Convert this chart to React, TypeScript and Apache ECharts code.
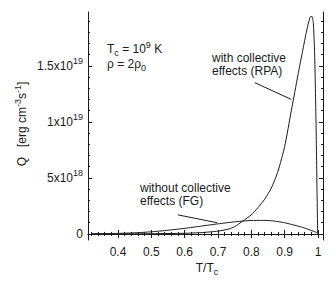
import React, { useEffect, useRef } from 'react';
import * as echarts from 'echarts';

// Temperature ratio T/Tc and emissivity Q (in units of 1e19 erg cm^-3 s^-1)
const tRPA = [0.32, 0.4, 0.5, 0.6, 0.65, 0.7, 0.73, 0.75, 0.775, 0.8, 0.82, 0.84, 0.86, 0.88, 0.9, 0.92, 0.94, 0.955, 0.965, 0.972, 0.978, 0.982, 0.986, 0.99, 0.994, 0.997, 0.999];
const qRPA = [0.0, 0.0, 0.002, 0.006, 0.012, 0.025, 0.042, 0.065, 0.116, 0.17, 0.235, 0.31, 0.41, 0.56, 0.78, 1.1, 1.42, 1.65, 1.8, 1.89, 1.94, 1.94, 1.88, 1.6, 1.0, 0.4, 0.0];

const tFG = [0.32, 0.4, 0.45, 0.5, 0.55, 0.6, 0.65, 0.7, 0.75, 0.78, 0.8, 0.83, 0.86, 0.88, 0.9, 0.92, 0.95, 0.97, 0.99, 0.999];
const qFG = [0.002, 0.005, 0.01, 0.019, 0.033, 0.05, 0.07, 0.09, 0.108, 0.116, 0.12, 0.121, 0.118, 0.11, 0.1, 0.085, 0.062, 0.042, 0.02, 0.01];

const xTicks = [0.4, 0.5, 0.6, 0.7, 0.8, 0.9, 1.0];
const xTickLabels = ['0.4', '0.5', '0.6', '0.7', '0.8', '0.9', '1'];
const yTicks = [0, 0.5, 1.0, 1.5];
const yTickLabels = ['{m|0}', '{m|5x10}{s|18}', '{m|1x10}{s|19}', '{m|1.5x10}{s|19}'];

const X_MIN = 0.31;
const X_MAX = 1.015;
const Y_MIN = -0.054;
const Y_MAX = 1.98;

const FONT = 'Liberation Sans, Arial, Helvetica, sans-serif';
const INK = '#1a1a1a';

function range(a: number, b: number, step: number, skip: number[]) {
  const out: number[] = [];
  for (let v = a; v <= b + 1e-9; v += step) {
    const r = Math.round(v * 1000) / 1000;
    if (!skip.some((s) => Math.abs(s - r) < 1e-6)) out.push(r);
  }
  return out;
}

const xMinor = range(0.32, 1.0, 0.02, xTicks);
const yMinor = range(0, 1.9, 0.1, yTicks);

export default function App() {
  const ref = useRef<HTMLDivElement>(null);
  useEffect(() => {
    if (!ref.current) return;
    const chart = echarts.init(ref.current, undefined, { renderer: 'svg' });
    const grid = { left: 88, top: 12, right: 13, bottom: 49 };
    const baseAxisLine = { show: true, lineStyle: { color: INK, width: 1 } };
    const mkX = (pos: 'bottom' | 'top', vals: number[], len: number, labels: boolean, line: boolean) => ({
      type: 'value',
      position: pos,
      min: X_MIN,
      max: X_MAX,
      axisLine: { ...baseAxisLine, show: line },
      axisTick: { show: true, inside: true, length: len, customValues: vals, lineStyle: { color: INK, width: 1 } },
      axisLabel: labels
        ? {
            show: true,
            customValues: xTicks,
            margin: 6,
            color: INK,
            fontFamily: FONT,
            fontSize: 12,
            formatter: (v: number) => {
              const i = xTicks.findIndex((t) => Math.abs(t - v) < 1e-6);
              return i >= 0 ? xTickLabels[i] : '';
            },
          }
        : { show: false },
      splitLine: { show: false },
    });
    const mkY = (pos: 'left' | 'right', vals: number[], len: number, labels: boolean, line: boolean) => ({
      type: 'value',
      position: pos,
      min: Y_MIN,
      max: Y_MAX,
      axisLine: { ...baseAxisLine, show: line },
      axisTick: { show: true, inside: true, length: len, customValues: vals, lineStyle: { color: INK, width: 1 } },
      axisLabel: labels
        ? {
            show: true,
            customValues: yTicks,
            margin: 5,
            color: INK,
            fontFamily: FONT,
            formatter: (v: number) => {
              const i = yTicks.findIndex((t) => Math.abs(t - v) < 1e-6);
              return i >= 0 ? yTickLabels[i] : '';
            },
            rich: {
              m: { fontSize: 12, fontFamily: FONT, color: INK, verticalAlign: 'middle' },
              s: { fontSize: 9, fontFamily: FONT, color: INK, verticalAlign: 'middle', padding: [0, 0, 10, 0] },
            },
          }
        : { show: false },
      splitLine: { show: false },
    });

    const richCommon = {
      m: { fontSize: 12, fontFamily: FONT, fill: INK, verticalAlign: 'middle' },
      sub: { fontSize: 9, fontFamily: FONT, fill: INK, verticalAlign: 'middle', padding: [8, 0, 0, 0] },
      sup: { fontSize: 9, fontFamily: FONT, fill: INK, verticalAlign: 'middle', padding: [0, 0, 8, 0] },
    };
    const txt = (x: number, y: number, text: string, extra: any = {}) => ({
      type: 'text',
      x,
      y,
      silent: true,
      style: {
        text,
        fill: INK,
        font: `12px ${FONT}`,
        verticalAlign: 'middle',
        rich: richCommon,
        ...extra,
      },
    });

    const arrowLine = (from: number[], to: number[]) => ({
      symbol: ['none', 'arrow'],
      symbolSize: [0, 7],
      silent: true,
      animation: false,
      label: { show: false },
      lineStyle: { color: INK, width: 1, type: 'solid' },
      emphasis: { disabled: true },
      data: [[{ coord: from }, { coord: to }]],
    });

    chart.setOption({
      animation: false,
      grid,
      xAxis: [
        mkX('bottom', xTicks, 4, true, true),
        mkX('bottom', xMinor, 2, false, false),
        mkX('top', xTicks, 4, false, true),
        mkX('top', xMinor, 2, false, false),
      ],
      yAxis: [
        mkY('left', yTicks, 4, true, true),
        mkY('left', yMinor, 2, false, false),
        mkY('right', yTicks, 4, false, true),
        mkY('right', yMinor, 2, false, false),
      ],
      series: [
        {
          type: 'line',
          name: 'RPA',
          data: tRPA.map((t, i) => [t, qRPA[i]]),
          showSymbol: false,
          symbol: 'none',
          smooth: 0.2,
          lineStyle: { color: INK, width: 1 },
          silent: true,
          markLine: arrowLine([0.81, 1.35], [0.92, 1.2]),
        },
        {
          type: 'line',
          name: 'FG',
          data: tFG.map((t, i) => [t, qFG[i]]),
          showSymbol: false,
          symbol: 'none',
          smooth: 0.2,
          lineStyle: { color: INK, width: 1 },
          silent: true,
          markLine: arrowLine([0.58, 0.17], [0.698, 0.1]),
        },
      ],
      graphic: [
        txt(107, 49, '{m|T}{sub|c}{m| = 10}{sup|9}{m| K}'),
        txt(107, 64, '{m|ρ = 2ρ}{sub|0}'),
        txt(212, 58, 'with collective'),
        txt(212, 71, 'effects (RPA)'),
        txt(140, 188, 'without collective'),
        txt(140, 201, 'effects (FG)'),
        txt(207, 268, '{m|T/T}{sub|c}', { align: 'center' }),
        {
          type: 'text',
          x: 22,
          y: 124,
          rotation: Math.PI / 2,
          silent: true,
          style: {
            text: '{m|Q   [erg cm}{sup|-3}{m|s}{sup|-1}{m|]}',
            fill: INK,
            font: `12px ${FONT}`,
            align: 'center',
            verticalAlign: 'middle',
            rich: richCommon,
          },
        },
      ],
    });
    return () => chart.dispose();
  }, []);
  return <div ref={ref} style={{ position: 'fixed', left: 0, top: 0, width: 336, height: 289, background: '#fff' }} />;
}
